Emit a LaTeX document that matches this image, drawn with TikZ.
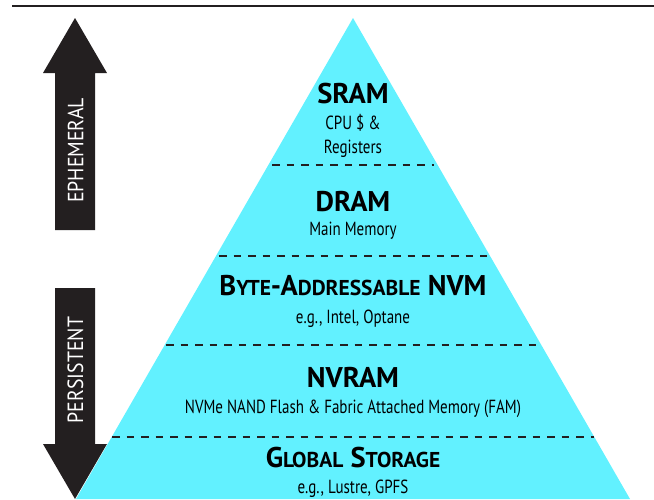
\documentclass[tikz,border=0pt]{standalone}
\usepackage{fontspec}
\setmainfont{PT Sans}
\newfontfamily\condfont[FakeStretch=0.79]{PT Sans}
\newfontfamily\labelfont[FakeStretch=0.9]{PT Sans}
\definecolor{inkdark}{HTML}{231F20}
\definecolor{tiercyan}{HTML}{62F1FF}
% upper-case letters at a reduced size, standing in for small capitals
\newcommand\fakesc[2]{#1{\fontsize{21.5}{21.5}\selectfont #2}}
\tikzset{
  layertitle/.style={font=\fontsize{28.5}{28.5}\selectfont\bfseries, anchor=base, inner sep=0pt},
  layernote/.style={font=\condfont\fontsize{19}{19}\selectfont, anchor=base, inner sep=0pt},
  arrowlabel/.style={font=\labelfont\fontsize{22}{22}\selectfont, text=white, rotate=90, inner sep=0pt},
  tierline/.style={draw=inkdark, line width=2.5pt, dash pattern=on 7.5pt off 7pt},
}
\begin{document}
\begin{tikzpicture}[x=1pt, y=-1pt]
\useasboundingbox (0,0) rectangle (654,499);

% rule across the top
\draw[inkdark, line width=2.5pt] (12,6) -- (654,6);

% direction arrows
\fill[inkdark] (55,230) -- (55,73) -- (43,73) -- (75,18) -- (107,73) -- (95,73) -- (95,230) -- cycle;
\fill[inkdark] (55,288) -- (95,288) -- (95,444) -- (107,444) -- (75,499) -- (43,444) -- (55,444) -- cycle;
\node[arrowlabel] (eph) at (75.5,150.5) {EPHEMERAL};
\node[arrowlabel] (per) at (75.5,370) {PERSISTENT};

% the pyramid
\coordinate (apex) at (353,18);
\coordinate (bl) at (76,499);
\coordinate (br) at (630,499);
\fill[tiercyan] (apex) -- (bl) -- (br) -- cycle;

% tier boundaries
\draw[tierline] (272,165) -- (434,165);
\draw[tierline] (219,256) -- (487,256);
\draw[tierline] (166,345) -- (540,345);
\draw[tierline] (112,437) -- (594,437);

% tier labels
\node[layertitle] (sram) at (353,103) {SRAM};
\node[layernote] (sramA) at (353,129) {CPU \$ \&};
\node[layernote] (sramB) at (353,153) {Registers};

\node[layertitle] (dram) at (353,211) {DRAM};
\node[layernote] (dramA) at (353,235) {Main Memory};

\node[layertitle] (bnvm) at (353,295) {\fakesc{B}{YTE}-\fakesc{A}{DDRESSABLE} NVM};
\node[layernote] (bnvmA) at (353,323) {e.g., Intel, Optane};

\node[layertitle] (nvram) at (353,387) {NVRAM};
\node[layernote] (nvramA) at (353,413) {NVMe NAND Flash \& Fabric Attached Memory (FAM)};

\node[layertitle] (glob) at (353,467) {\fakesc{G}{LOBAL} \fakesc{S}{TORAGE}};
\node[layernote] (globA) at (353,493) {e.g., Lustre, GPFS};
\end{tikzpicture}
\end{document}
